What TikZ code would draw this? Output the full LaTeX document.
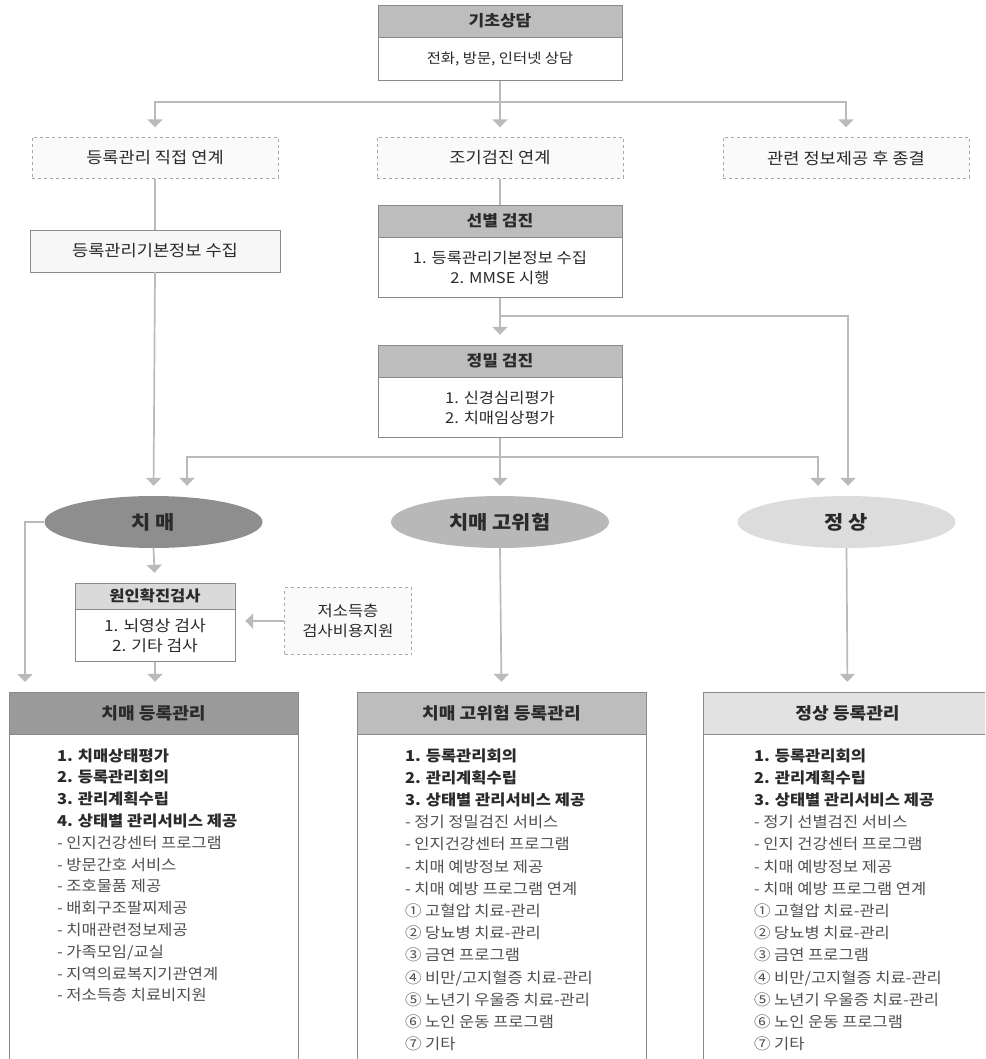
\documentclass[tikz,border=0pt]{standalone}
\usepackage{fontspec}
\setmainfont{Noto Sans CJK KR}[FakeStretch=1.1]
\usetikzlibrary{arrows.meta,positioning,shapes.geometric}

\definecolor{linegray}{HTML}{BABABA}
\definecolor{boxline}{HTML}{8A8A8A}
\definecolor{dashline}{HTML}{A8A8A8}
\definecolor{txtdark}{HTML}{2A2A2A}
\definecolor{txtmid}{HTML}{505050}
\definecolor{headmid}{HTML}{BDBDBD}
\definecolor{headlight}{HTML}{DADADA}
\definecolor{headdark}{HTML}{9A9A9A}
\definecolor{headpale}{HTML}{E2E2E2}
\definecolor{ellA}{HTML}{8E8E8E}
\definecolor{ellB}{HTML}{B8B8B8}
\definecolor{ellC}{HTML}{DCDCDC}

\begin{document}
\begin{tikzpicture}[x=1pt, y=-1pt,
  head/.style={draw=boxline, fill=#1, minimum height=32pt, minimum width=244pt, inner sep=0pt,
    font=\fontsize{15.5}{18}\selectfont\bfseries, text=txtdark},
  body/.style={draw=boxline, fill=white, minimum width=244pt, inner sep=0pt, align=center,
    font=\fontsize{15}{20}\selectfont, text=txtdark},
  dbox/.style={draw=dashline, dashed, fill=gray!4, minimum width=246pt, minimum height=41pt,
    inner sep=0pt, align=center, font=\fontsize{16}{20}\selectfont, text=txtdark},
  ell/.style={ellipse, fill=#1, minimum width=218pt, minimum height=52pt, inner sep=0pt,
    font=\fontsize{19}{22}\selectfont\bfseries, text=txtdark},
  regbox/.style={draw=boxline, fill=white, minimum width=289pt, minimum height=340pt, inner sep=0pt},
  list/.style={align=left, inner sep=0pt, font=\fontsize{15}{21.8}\selectfont, text=txtmid},
  ln/.style={draw=linegray, line width=1.7pt},
  arr/.style={draw=linegray, line width=1.7pt, -{Triangle[length=8pt,width=15pt]}, shorten >=10pt}
]
\clip (0,0) rectangle (985,1059);

% top
\node[head=headmid] (gc) at (500,21) {기초상담};
\node[body, below=0pt of gc, minimum height=43pt, font=\fontsize{14}{20}\selectfont] (gcb) {전화, 방문, 인터넷 상담};

\node[dbox] (d1) at (155,158) {등록관리 직접 연계};
\node[dbox] (d2) at (500,158) {조기검진 연계};
\node[dbox] (d3) at (846,158) {관련 정보제공 후 종결};

\coordinate (j1) at (500,102);
\draw[ln] (gcb.south) -- (j1);
\draw[arr] (j1) -- (d2.north);
\draw[arr] (j1) -| (d1.north);
\draw[arr] (j1) -| (d3.north);

% left branch
\node[draw=boxline, fill=gray!6, minimum width=250pt, minimum height=42pt, inner sep=0pt,
  font=\fontsize{16}{20}\selectfont, text=txtdark] (rb) at (155,251) {등록관리기본정보 수집};
\draw[ln] (d1.south) -- (rb.north);

% screening
\node[head=headmid] (sb) at (500,221) {선별 검진};
\node[body, below=0pt of sb, minimum height=60pt] (sbb) {1. 등록관리기본정보 수집\\2. MMSE 시행};
\draw[ln] (d2.south) -- (sb.north);

\node[head=headmid] (jm) at (500,361) {정밀 검진};
\node[body, below=0pt of jm, minimum height=60pt] (jmb) {1. 신경심리평가\\2. 치매임상평가};

% results
\node[ell=ellA] (e1) at (153.5,522) {치 매};
\node[ell=ellB] (e2) at (500,522) {치매 고위험};
\node[ell=ellC] (e3) at (846.5,522) {정 상};

\coordinate (j2) at (500,316);
\draw[ln] (sbb.south) -- (j2);
\draw[arr] (j2) -- (jm.north);
\draw[arr] (j2) -| ([xshift=1.5pt]e3.north);

\coordinate (j3) at (500,457);
\draw[ln] (jmb.south) -- (j3);
\draw[arr] (j3) -- (e2.north);
\draw[arr] (j3) -| ([xshift=33.5pt]e1.north);
\draw[arr] (j3) -| ([xshift=-28.5pt]e3.north);
\draw[arr] (rb.south) -- (e1.north);

% cause check
\node[head=headlight, minimum width=160pt, minimum height=26pt, font=\fontsize{15}{18}\selectfont\bfseries] (wh) at (155,596) {원인확진검사};
\node[body, below=0pt of wh, minimum width=160pt, minimum height=52pt, font=\fontsize{15.5}{20}\selectfont] (whb) {1. 뇌영상 검사\\2. 기타 검사};
\node[dbox, minimum width=127pt, minimum height=67pt, font=\fontsize{15}{20}\selectfont] (low) at (348,621) {저소득층\\검사비용지원};
\draw[arr] (e1.south) -- (wh.north);
\draw[arr] (low.west) -- (low.west -| whb.east);

% registration
\node[head=headdark, minimum width=289pt, minimum height=42pt, font=\fontsize{16.5}{20}\selectfont\bfseries] (hd1) at (153.5,713) {치매 등록관리};
\node[head=headmid, minimum width=289pt, minimum height=42pt, font=\fontsize{16.5}{20}\selectfont\bfseries] (hd2) at (501.5,713) {치매 고위험 등록관리};
\node[head=headpale, minimum width=289pt, minimum height=42pt, font=\fontsize{16.5}{20}\selectfont\bfseries] (hd3) at (847.5,713) {정상 등록관리};
\node[regbox, below=0pt of hd1] (bd1) {};
\node[regbox, below=0pt of hd2] (bd2) {};
\node[regbox, below=0pt of hd3] (bd3) {};

\coordinate (c1) at (25,692);
\draw[arr] (e1.west) -| (c1);
\draw[arr] (whb.south) -- (whb.south |- hd1.north);
\draw[arr] (e2.south) -- (hd2.north);
\draw[arr] (e3.south) -- (hd3.north);

\node[list, anchor=north west] (ls1) at ([xshift=48pt,yshift=-14pt]hd1.south west) {%
{\bfseries\color{txtdark}1. 치매상태평가}\\
{\bfseries\color{txtdark}2. 등록관리회의}\\
{\bfseries\color{txtdark}3. 관리계획수립}\\
{\bfseries\color{txtdark}4. 상태별 관리서비스 제공}\\
- 인지건강센터 프로그램\\
- 방문간호 서비스\\
- 조호물품 제공\\
- 배회구조팔찌제공\\
- 치매관련정보제공\\
- 가족모임/교실\\
- 지역의료복지기관연계\\
- 저소득층 치료비지원};

\node[list, anchor=north west, font=\fontsize{15}{22.2}\selectfont] (ls2) at ([xshift=48pt,yshift=-14pt]hd2.south west) {%
{\bfseries\color{txtdark}1. 등록관리회의}\\
{\bfseries\color{txtdark}2. 관리계획수립}\\
{\bfseries\color{txtdark}3. 상태별 관리서비스 제공}\\
- 정기 정밀검진 서비스\\
- 인지건강센터 프로그램\\
- 치매 예방정보 제공\\
- 치매 예방 프로그램 연계\\
① 고혈압 치료-관리\\
② 당뇨병 치료-관리\\
③ 금연 프로그램\\
④ 비만/고지혈증 치료-관리\\
⑤ 노년기 우울증 치료-관리\\
⑥ 노인 운동 프로그램\\
⑦ 기타};

\node[list, anchor=north west, font=\fontsize{15}{22.2}\selectfont] (ls3) at ([xshift=51pt,yshift=-14pt]hd3.south west) {%
{\bfseries\color{txtdark}1. 등록관리회의}\\
{\bfseries\color{txtdark}2. 관리계획수립}\\
{\bfseries\color{txtdark}3. 상태별 관리서비스 제공}\\
- 정기 선별검진 서비스\\
- 인지 건강센터 프로그램\\
- 치매 예방정보 제공\\
- 치매 예방 프로그램 연계\\
① 고혈압 치료-관리\\
② 당뇨병 치료-관리\\
③ 금연 프로그램\\
④ 비만/고지혈증 치료-관리\\
⑤ 노년기 우울증 치료-관리\\
⑥ 노인 운동 프로그램\\
⑦ 기타};
\end{tikzpicture}
\end{document}
